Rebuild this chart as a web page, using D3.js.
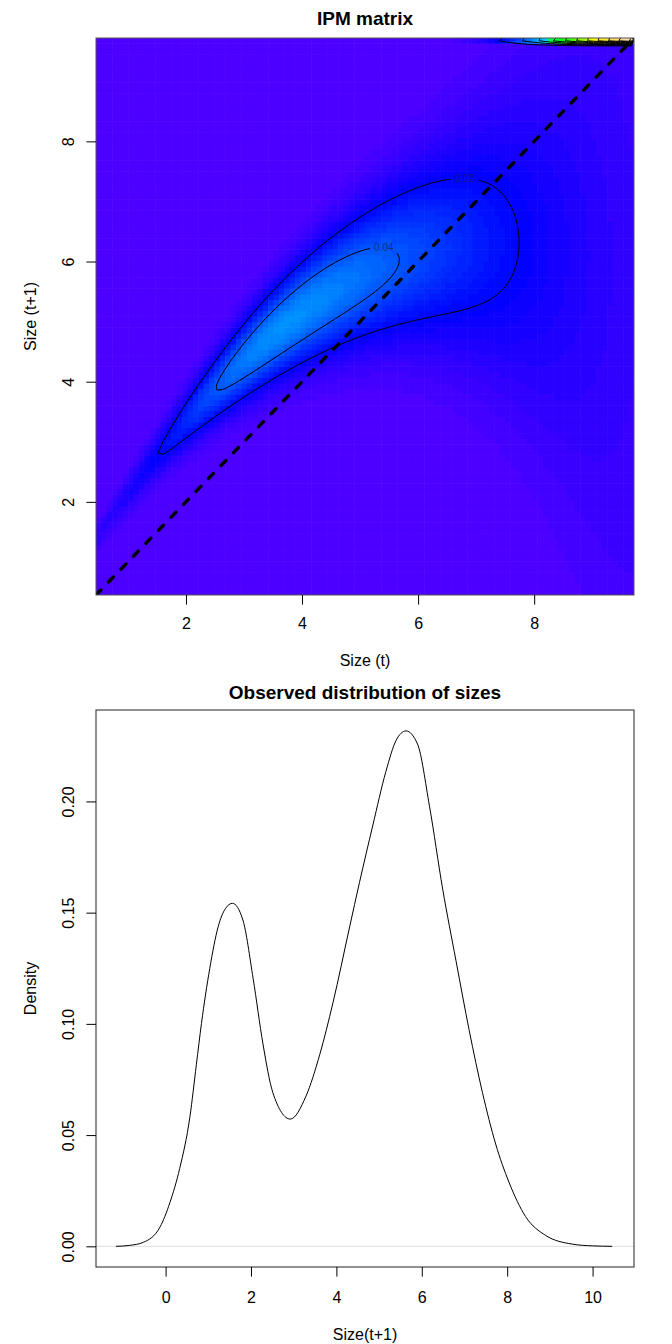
<!DOCTYPE html>
<html>
<head>
<meta charset="utf-8">
<script src="https://cdn.jsdelivr.net/npm/d3@7"></script>
<style>
  body { margin: 0; background: #fff; }
  svg { display: block; font-family: "Liberation Sans", Arial, Helvetica, sans-serif; }
</style>
</head>
<body>
<svg id="chart" width="672" height="1344"></svg>
<script>
// ---- IPM kernel: mesh + vital rate parameters ----
const meshN = 100;
const meshRange = [0.45, 9.72];
const survivalCoef = [-3.94, 1.45];             // logit s(x) = a + b*x
const growthMeanCoef = [0.72, 1.52, -0.103];    // mu(x) = a + b*x + c*x^2
const growthSdCoef = [0.1, 0.11, 0.0025, 0.76]; // sd(x) = a + b*x + c*exp(d*x)
const contourLevels = [0.02, 0.04, 0.06, 0.08, 0.10, 0.12, 0.14, 0.16, 0.18, 0.20, 0.22];
const labelledLevels = [0.02, 0.04];
const ipmTicks = [2, 4, 6, 8];

// ---- observed size distribution (kernel density) ----
const densX = [-1.16, -0.85, -0.52, -0.13, 0.10, 0.33, 0.57, 0.72, 0.84, 1.035, 1.23, 1.40, 1.565,
  1.81, 2.05, 2.28, 2.51, 2.92, 3.29, 3.61, 3.92, 4.31, 4.54, 4.85, 5.16, 5.40, 5.63, 5.90,
  6.18, 6.49, 6.80, 7.11, 7.42, 7.73, 8.04, 8.43, 8.90, 9.52, 10.0, 10.46];
const densY = [0, 0.0004, 0.0018, 0.0087, 0.0196, 0.035, 0.0583, 0.0816, 0.1002, 0.125, 0.1436, 0.1518, 0.1542,
  0.1467, 0.1204, 0.091, 0.0692, 0.0572, 0.0676, 0.0862, 0.1095, 0.1436, 0.1635, 0.189, 0.2135, 0.2275, 0.2317, 0.2258,
  0.1979, 0.1605, 0.1285, 0.0971, 0.0692, 0.046, 0.0289, 0.0134, 0.0049, 0.001, 0.0002, 0];
const densXTicks = [0, 2, 4, 6, 8, 10];
const densYTicks = [0, 0.05, 0.10, 0.15, 0.20];
const densXDomain = [-1.63, 10.97];
const densYDomain = [-0.0093, 0.2411];

const svg = d3.select("#chart");
const ipmBox = { left: 96, right: 634, top: 38, bottom: 595 };
const densBox = { left: 96, right: 634, top: 710, bottom: 1267 };
const tickLen = 9.6;

function dnorm(z) { return Math.exp(-z * z / 2) / Math.sqrt(2 * Math.PI); }
function pnorm(z) {
  const t = 1 / (1 + 0.2316419 * Math.abs(z));
  const p = dnorm(z) * t * (0.319381530 + t * (-0.356563782 + t * (1.781477937 + t * (-1.821255978 + t * 1.330274429))));
  return z > 0 ? 1 - p : p;
}

function hsv(h, s, v) {
  const i = Math.floor(h * 6), f = h * 6 - i;
  const p = v * (1 - s), q = v * (1 - f * s), t = v * (1 - (1 - f) * s);
  const [r, g, b] = [[v, t, p], [q, v, p], [p, v, t], [p, q, v], [t, p, v], [v, p, q]][i % 6];
  return d3.rgb(r * 255, g * 255, b * 255).formatHex();
}
// same as R's topo.colors(n)
function topoColors(n) {
  const j = Math.floor(n / 3), k = Math.floor(n / 3), i = n - j - k;
  const seq = (a, b, len) => d3.range(len).map(t => len === 1 ? a : a + (b - a) * t / (len - 1));
  const sat = seq(1, 0.3, k);
  return [
    ...seq(43 / 60, 31 / 60, i).map(hh => hsv(hh, 1, 1)),
    ...seq(23 / 60, 11 / 60, j).map(hh => hsv(hh, 1, 1)),
    ...seq(10 / 60, 6 / 60, k).map((hh, m) => hsv(hh, sat[m], 1))
  ];
}

// ---------------- build the kernel ----------------
const [L, U] = meshRange;
const h = (U - L) / meshN;
const mesh = d3.range(meshN).map(i => L + (i + 0.5) * h);
const values = new Array(meshN * meshN).fill(0); // values[i + j*n], i = size(t), j = size(t+1)

mesh.forEach((x, i) => {
  const s = 1 / (1 + Math.exp(-(survivalCoef[0] + survivalCoef[1] * x)));
  const mu = growthMeanCoef[0] + growthMeanCoef[1] * x + growthMeanCoef[2] * x * x;
  const sd = growthSdCoef[0] + growthSdCoef[1] * x + growthSdCoef[2] * Math.exp(growthSdCoef[3] * x);
  mesh.forEach((y, j) => {
    values[i + j * meshN] = s * h * dnorm((y - mu) / sd) / sd;
  });
  // eviction fix: mass above the upper limit goes into the top cell
  values[i + (meshN - 1) * meshN] += s * (1 - pnorm((U - mu) / sd));
});

const zMin = d3.min(values), zMax = d3.max(values);
const palette = topoColors(100);
const colorOf = v => palette[Math.min(99, Math.floor((v - zMin) / (zMax - zMin) * 100))];

// ---------------- IPM matrix plot ----------------
const xs = d3.scaleLinear().domain(meshRange).range([ipmBox.left, ipmBox.right]);
const ys = d3.scaleLinear().domain(meshRange).range([ipmBox.bottom, ipmBox.top]);

const defs = svg.append("defs");
defs.append("clipPath").attr("id", "ipmClip")
  .append("rect")
  .attr("x", ipmBox.left).attr("y", ipmBox.top)
  .attr("width", ipmBox.right - ipmBox.left).attr("height", ipmBox.bottom - ipmBox.top);

const cells = d3.cross(d3.range(meshN), d3.range(meshN));
svg.append("g")
  .attr("clip-path", "url(#ipmClip)")
  .selectAll("rect")
  .data(cells)
  .join("rect")
  .attr("x", d => xs(L + d[0] * h))
  .attr("y", d => ys(L + (d[1] + 1) * h) - 0.4)
  .attr("width", xs(L + h) - xs(L) + 0.6)
  .attr("height", ys(L) - ys(L + h) + 0.6)
  .attr("fill", d => colorOf(values[d[0] + d[1] * meshN]));

// contours (open at the border, like R's contour())
const contours = d3.contours().size([meshN, meshN]).thresholds(contourLevels)(values);
const gx = c => xs(L + c * h), gy = c => ys(L + c * h);
const onEdge = p => p[0] <= 0 || p[0] >= meshN || p[1] <= 0 || p[1] >= meshN;
function ringToLines(ring) {
  const lines = [];
  let cur = [];
  for (let k = 0; k < ring.length - 1; k++) {
    const a = ring[k], b = ring[k + 1];
    if (onEdge(a) && onEdge(b)) {
      if (cur.length > 1) lines.push(cur);
      cur = [];
    } else {
      if (!cur.length) cur.push(a);
      cur.push(b);
    }
  }
  if (cur.length > 1) lines.push(cur);
  return lines;
}
const contourLines = contours.flatMap(c =>
  c.coordinates.flatMap(poly => poly.flatMap(ring => ringToLines(ring))));

// label positions: top-most point of the main ring
const labels = labelledLevels.map(lv => {
  const c = contours.find(d => Math.abs(d.value - lv) < 1e-9);
  let best = null;
  c.coordinates.forEach(poly => poly.forEach(ring => {
    if (!ring.some(onEdge) && (!best || ring.length > best.length)) best = ring;
  }));
  const top = best.reduce((a, p) => (gy(p[1]) < gy(a[1]) ? p : a));
  return { text: lv.toFixed(2), x: gx(top[0]), y: gy(top[1]) };
});

const mask = defs.append("mask").attr("id", "labelMask");
mask.append("rect").attr("x", 0).attr("y", 0).attr("width", 672).attr("height", 1344).attr("fill", "#fff");
mask.selectAll("rect.gap").data(labels).join("rect")
  .attr("class", "gap")
  .attr("x", d => d.x - 14).attr("y", d => d.y - 6)
  .attr("width", 28).attr("height", 12).attr("fill", "#000");

const cg = svg.append("g").attr("clip-path", "url(#ipmClip)");
cg.append("g").attr("mask", "url(#labelMask)")
  .selectAll("path")
  .data(contourLines)
  .join("path")
  .attr("d", d3.line().x(p => gx(p[0])).y(p => gy(p[1])))
  .attr("fill", "none")
  .attr("stroke", "#000")
  .attr("stroke-width", 1);

cg.selectAll("text.clabel").data(labels).join("text")
  .attr("class", "clabel")
  .attr("x", d => d.x).attr("y", d => d.y)
  .attr("text-anchor", "middle")
  .attr("dominant-baseline", "central")
  .attr("font-size", 10)
  .attr("fill", "#222")
  .attr("fill-opacity", 0.65)
  .text(d => d.text);

// 1:1 line
cg.append("line")
  .attr("x1", xs(L)).attr("y1", ys(L))
  .attr("x2", xs(U)).attr("y2", ys(U))
  .attr("stroke", "#000")
  .attr("stroke-width", 3.4)
  .attr("stroke-linecap", "round")
  .attr("stroke-dasharray", "7,11");

svg.append("rect")
  .attr("x", ipmBox.left).attr("y", ipmBox.top)
  .attr("width", ipmBox.right - ipmBox.left).attr("height", ipmBox.bottom - ipmBox.top)
  .attr("fill", "none").attr("stroke", "#555").attr("stroke-width", 1);

// axes
function styleAxis(g) {
  g.select(".domain").remove();
  g.selectAll("line").attr("stroke", "#000");
  g.selectAll("text").attr("font-size", 16).attr("fill", "#000").attr("font-family", null);
}
function rotateYLabels(g) {
  g.selectAll("text")
    .attr("transform", "rotate(-90)")
    .attr("x", 0).attr("y", -28).attr("dy", null)
    .attr("text-anchor", "middle")
    .attr("dominant-baseline", "central");
}

svg.append("g")
  .attr("transform", `translate(0,${ipmBox.bottom})`)
  .call(d3.axisBottom(xs).tickValues(ipmTicks).tickSize(tickLen).tickPadding(13.5).tickFormat(d3.format("d")))
  .call(styleAxis);

svg.append("g")
  .attr("transform", `translate(${ipmBox.left},0)`)
  .call(d3.axisLeft(ys).tickValues(ipmTicks).tickSize(tickLen).tickFormat(d3.format("d")))
  .call(styleAxis)
  .call(rotateYLabels);

svg.append("text")
  .attr("x", (ipmBox.left + ipmBox.right) / 2).attr("y", 25)
  .attr("text-anchor", "middle").attr("font-size", 19).attr("font-weight", "bold")
  .text("IPM matrix");
svg.append("text")
  .attr("x", (ipmBox.left + ipmBox.right) / 2).attr("y", ipmBox.bottom + 65)
  .attr("text-anchor", "middle").attr("dominant-baseline", "central").attr("font-size", 16)
  .text("Size (t)");
svg.append("text")
  .attr("transform", `translate(30,${(ipmBox.top + ipmBox.bottom) / 2}) rotate(-90)`)
  .attr("text-anchor", "middle").attr("dominant-baseline", "central").attr("font-size", 16)
  .text("Size (t+1)");

// ---------------- observed distribution plot ----------------
const dx = d3.scaleLinear().domain(densXDomain).range([densBox.left, densBox.right]);
const dy = d3.scaleLinear().domain(densYDomain).range([densBox.bottom, densBox.top]);

svg.append("line")
  .attr("x1", densBox.left).attr("x2", densBox.right)
  .attr("y1", dy(0)).attr("y2", dy(0))
  .attr("stroke", "#ddd").attr("stroke-width", 1);

svg.append("path")
  .datum(d3.zip(densX, densY))
  .attr("d", d3.line().x(d => dx(d[0])).y(d => dy(d[1])).curve(d3.curveMonotoneX))
  .attr("fill", "none")
  .attr("stroke", "#000")
  .attr("stroke-width", 1);

svg.append("rect")
  .attr("x", densBox.left).attr("y", densBox.top)
  .attr("width", densBox.right - densBox.left).attr("height", densBox.bottom - densBox.top)
  .attr("fill", "none").attr("stroke", "#222").attr("stroke-width", 1);

svg.append("g")
  .attr("transform", `translate(0,${densBox.bottom})`)
  .call(d3.axisBottom(dx).tickValues(densXTicks).tickSize(tickLen).tickPadding(15.5).tickFormat(d3.format("d")))
  .call(styleAxis);

svg.append("g")
  .attr("transform", `translate(${densBox.left},0)`)
  .call(d3.axisLeft(dy).tickValues(densYTicks).tickSize(tickLen).tickFormat(d3.format(".2f")))
  .call(styleAxis)
  .call(rotateYLabels);

svg.append("text")
  .attr("x", (densBox.left + densBox.right) / 2).attr("y", densBox.top - 11)
  .attr("text-anchor", "middle").attr("font-size", 19).attr("font-weight", "bold")
  .text("Observed distribution of sizes");
svg.append("text")
  .attr("x", (densBox.left + densBox.right) / 2).attr("y", densBox.bottom + 67)
  .attr("text-anchor", "middle").attr("dominant-baseline", "central").attr("font-size", 16)
  .text("Size(t+1)");
svg.append("text")
  .attr("transform", `translate(30,${(densBox.top + densBox.bottom) / 2}) rotate(-90)`)
  .attr("text-anchor", "middle").attr("dominant-baseline", "central").attr("font-size", 16)
  .text("Density");
</script>
</body>
</html>
